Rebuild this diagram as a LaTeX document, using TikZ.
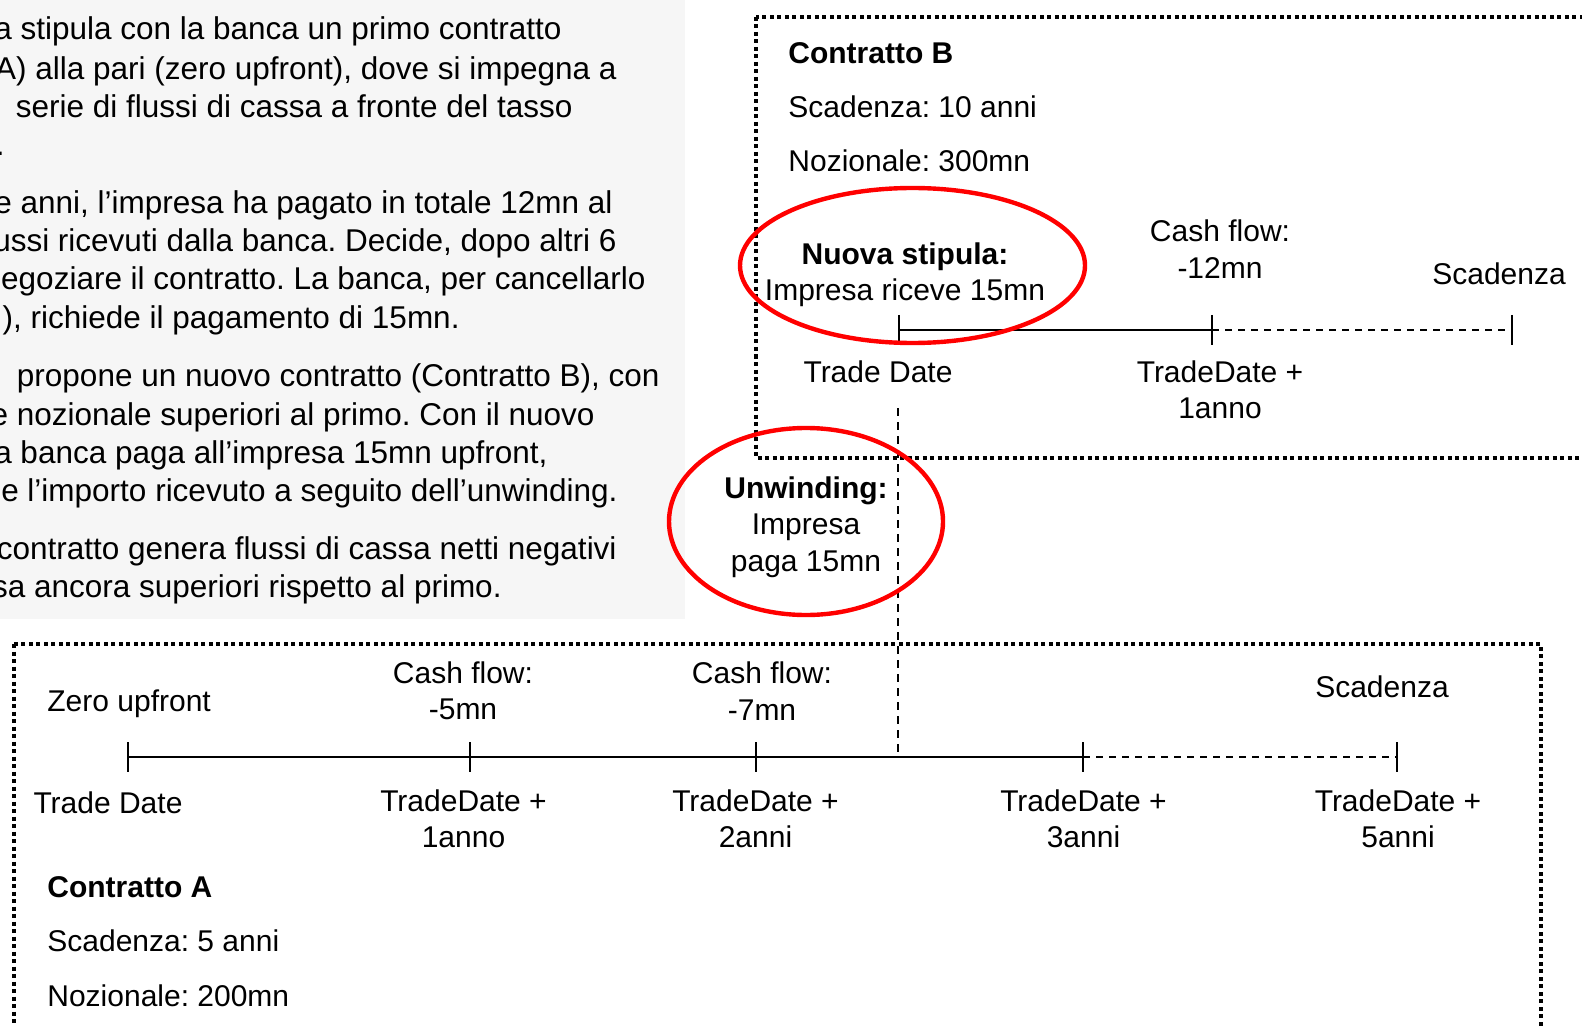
\documentclass[tikz,border=0pt]{standalone}
\usepackage{fontspec}
\setmainfont{Liberation Sans}
\frenchspacing
\definecolor{panelgray}{RGB}{246,246,246}
\tikzset{
  body/.style={inner sep=0pt, anchor=base east, font=\fontsize{15.75}{19}\selectfont},
  lbl/.style={inner sep=0pt, font=\fontsize{15}{18.2}\selectfont},
  lblw/.style={lbl, anchor=base west},
  lblb/.style={lbl, anchor=base},
  lbl2/.style={lbl, align=center, anchor=center},
  dotbox/.style={line width=2pt, dash pattern=on 2pt off 1.75pt},
  tl/.style={line width=1pt},
  tlfut/.style={line width=1pt, dash pattern=on 3.5pt off 3pt},
  vdash/.style={line width=1pt, dash pattern=on 4pt off 3pt},
  redring/.style={draw=red, line width=2.2pt},
}
\begin{document}
\begin{tikzpicture}[x=0.5pt, y=-0.5pt]
\clip (0,0) rectangle (1582,1026);
% left text panel
\fill[panelgray] (-10,-10) rectangle (685,619);
\node[body] (l1)  at (562,40)    {a stipula con la banca un primo contratto};
\node[body] (l2)  at (617,79.5)  {A) alla pari (zero upfront), dove si impegna a};
\node[body] (l3)  at (573,117.5) {serie di flussi di cassa a fronte del tasso};
\node[body] (l4)  at (5,155.5)   {.};
\node[body] (l5)  at (613,213.5) {e anni, l’impresa ha pagato in totale 12mn al};
\node[body] (l6)  at (617,251.5) {ussi ricevuti dalla banca. Decide, dopo altri 6};
\node[body] (l7)  at (646,289.5) {egoziare il contratto. La banca, per cancellarlo};
\node[body] (l8)  at (460,328.5) {), richiede il pagamento di 15mn.};
\node[body] (l9)  at (660,386.5) {propone un nuovo contratto (Contratto B), con};
\node[body] (l10) at (595,425.5) {e nozionale superiori al primo. Con il nuovo};
\node[body] (l11) at (548,463.5) {a banca paga all’impresa 15mn upfront,};
\node[body] (l12) at (618,501.5) {e l’importo ricevuto a seguito dell’unwinding.};
\node[body] (l13) at (617,559.5) {contratto genera flussi di cassa netti negativi};
\node[body] (l14) at (502,597.5) {sa ancora superiori rispetto al primo.};

% dotted frames
\draw[dotbox] (756,17) rectangle (1640,458);
\draw[dotbox] (14,644) rectangle (1541,1080);

% timeline B
\coordinate (b0) at (899,330);
\coordinate (b1) at (1212,330);
\coordinate (b2) at (1512,330);
\draw[tl] (b0) -- (b1);
\draw[tlfut] (b1) -- (b2);
\foreach \c in {b0,b1,b2} \draw[tl] (\c) ++(0,-15) -- ++(0,30);

% timeline A
\coordinate (a0) at (128,757);
\coordinate (a1) at (470,757);
\coordinate (a2) at (756,757);
\coordinate (ax) at (898,757);
\coordinate (a3) at (1083,757);
\coordinate (a4) at (1397,757);
\draw[tl] (a0) -- (a3);
\draw[tlfut] (a3) -- (a4);
\foreach \c in {a0,a1,a2,a3,a4} \draw[tl] (\c) ++(0,-15) -- ++(0,30);

% unwinding marker
\coordinate (vtop) at (898,408);
\draw[vdash] (vtop) -- (ax);

% red rings
\draw[redring] (912.5,265.5) ellipse [x radius=172.5, y radius=77.5];
\draw[redring] (806,521.5) ellipse [x radius=137, y radius=93.5];

% contract B texts
\node[lblw] (cB)   at (788,64)  {\textbf{Contratto B}};
\node[lblw] (sB)   at (788,118) {Scadenza: 10 anni};
\node[lblw] (nB)   at (788,172) {Nozionale: 300mn};
\node[lbl2] (cfB)  at (1220,249) {Cash flow:\\-12mn};
\node[lblb] (scB)  at (1499,285) {Scadenza};
\node[lblb] (tdB)  at (878,382) {Trade Date};
\node[lbl2] (td1B) at (1220,390) {TradeDate +\\1anno};
\node[lbl2] (nuova) at (905,274.5) {\textbf{Nuova stipula:}\\Impresa riceve 15mn};
\node[lbl2] (unw)  at (806,527) {\textbf{Unwinding:}\\Impresa\\paga 15mn};

% contract A texts
\node[lblw] (zu)   at (47,711) {Zero upfront};
\node[lbl2] (cf1)  at (463,691) {Cash flow:\\-5mn};
\node[lbl2] (cf2)  at (762,691) {Cash flow:\\-7mn};
\node[lblb] (scA)  at (1382,697) {Scadenza};
\node[lblb] (tdA)  at (108,813) {Trade Date};
\node[lbl2] (t1)   at (463.5,819) {TradeDate +\\1anno};
\node[lbl2] (t2)   at (755.5,819) {TradeDate +\\2anni};
\node[lbl2] (t3)   at (1083.5,819) {TradeDate +\\3anni};
\node[lbl2] (t5)   at (1398,819) {TradeDate +\\5anni};
\node[lblw] (cA)   at (47,897)  {\textbf{Contratto A}};
\node[lblw] (sA)   at (47,951)  {Scadenza: 5 anni};
\node[lblw] (nA)   at (47,1006) {Nozionale: 200mn};
\end{tikzpicture}
\end{document}
